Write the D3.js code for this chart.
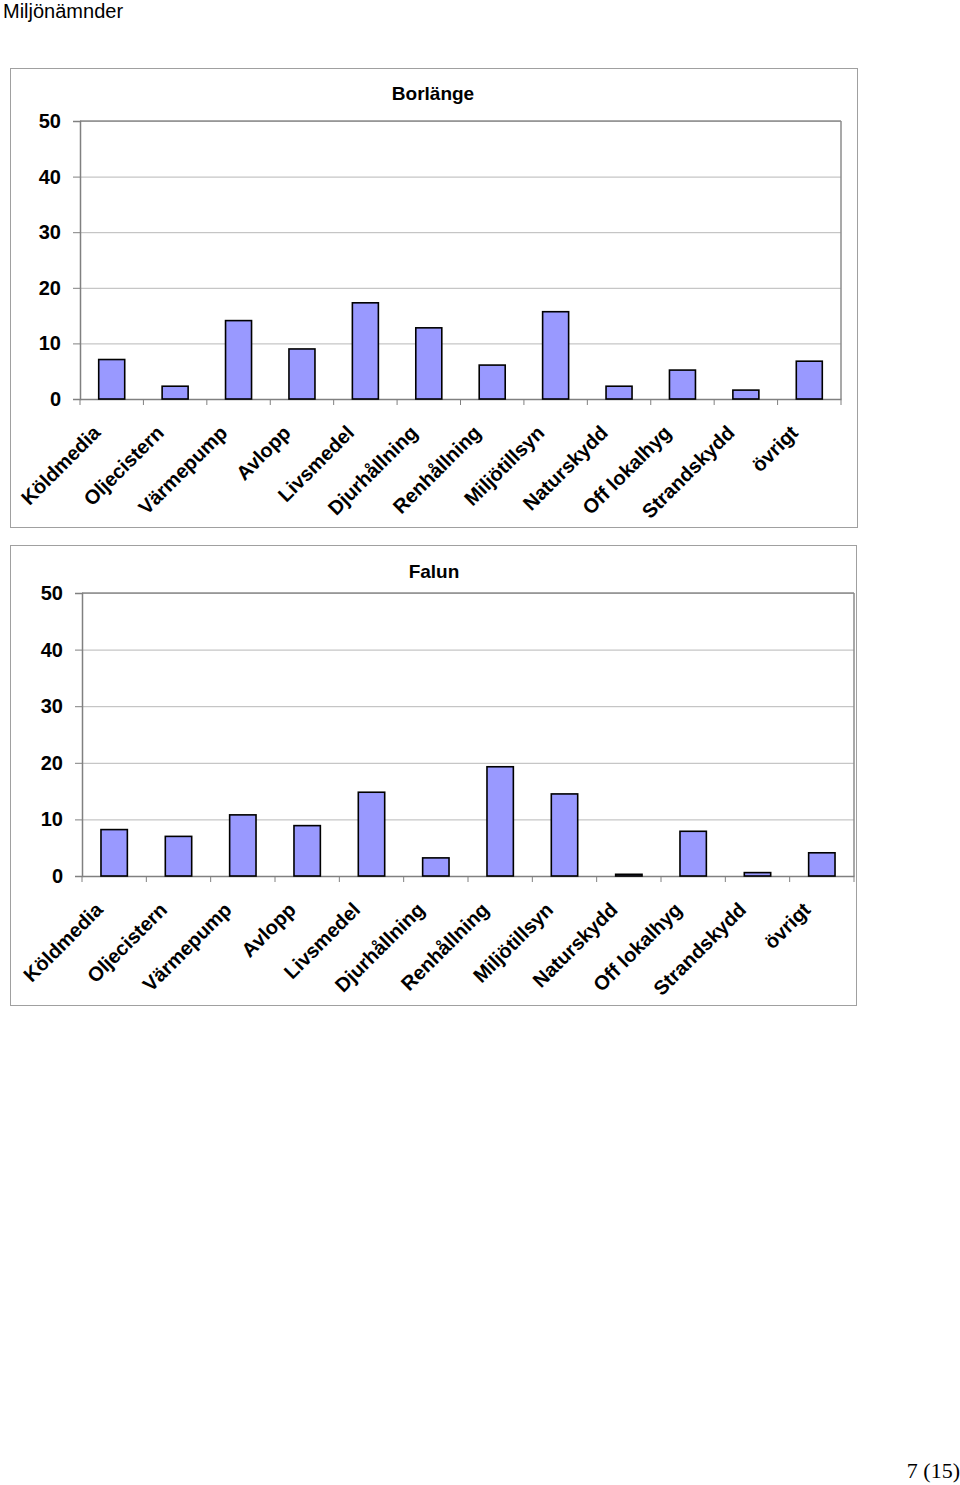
<!DOCTYPE html>
<html><head><meta charset="utf-8">
<script src="https://cdn.jsdelivr.net/npm/d3@7"></script>
<style>
body{margin:0;background:#fff;}
svg{display:block;}
text{font-family:"Liberation Sans",Arial,sans-serif;}
</style></head>
<body>
<svg id="c" width="960" height="1485"></svg>
<script>
const categories = ["Köldmedia","Oljecistern","Värmepump","Avlopp","Livsmedel","Djurhållning","Renhållning","Miljötillsyn","Naturskydd","Off lokalhyg","Strandskydd","övrigt"];
const borlange = [7.1, 2.3, 14.1, 9.0, 17.3, 12.8, 6.1, 15.7, 2.3, 5.2, 1.6, 6.8];
const falun = [8.2, 7.0, 10.8, 8.9, 14.8, 3.2, 19.3, 14.5, 0.3, 7.9, 0.6, 4.1];
const yTicks = [0, 10, 20, 30, 40, 50];
const pageTitle = "Miljönämnder";
const pageNumber = "7 (15)";

const svg = d3.select("#c");

svg.append("text").attr("x",3).attr("y",18).attr("font-size",20).attr("fill","#000").text(pageTitle);
svg.append("text").attr("x",960).attr("y",1478).attr("text-anchor","end")
  .attr("font-size",22).style("font-family","'Liberation Serif','Times New Roman',serif").text(pageNumber);

const charts = [
  {title:"Borlänge", values:borlange, box:[10,68,857,527], plot:[80,121,841,399], titleX:433, titleY:100, labelX:50},
  {title:"Falun", values:falun, box:[10,545,856,1005], plot:[82,593,854,876], titleX:434, titleY:578, labelX:52}
];

charts.forEach(c=>{
  const g = svg.append("g");
  const [bx0,by0,bx1,by1] = c.box;
  g.append("rect").attr("x",bx0+0.5).attr("y",by0+0.5).attr("width",bx1-bx0).attr("height",by1-by0)
    .attr("fill","#fff").attr("stroke","#a0a0a0").attr("stroke-width",1);
  const [l,t,r,b] = c.plot;
  const x = d3.scaleBand().domain(categories).range([l,r]).padding(0);
  const y = d3.scaleLinear().domain([0,50]).range([b,t]);

  // gridlines
  g.append("g").attr("transform",`translate(${l},0)`)
    .call(d3.axisLeft(y).tickValues(yTicks.filter(v=>v>0)).tickSize(-(r-l)).tickFormat(""))
    .call(s=>{s.select(".domain").remove(); s.selectAll("line").attr("stroke","#b8b8b8").attr("stroke-width",1);});

  // plot border top & right
  g.append("line").attr("x1",l).attr("x2",r).attr("y1",t).attr("y2",t).attr("stroke","#8c8c8c").attr("stroke-width",1.5);
  g.append("line").attr("x1",r).attr("x2",r).attr("y1",t).attr("y2",b).attr("stroke","#8c8c8c").attr("stroke-width",1.5);

  // y axis
  const ya = g.append("g").attr("transform",`translate(${l},0)`)
    .call(d3.axisLeft(y).tickValues(yTicks).tickSize(7).tickPadding(0));
  ya.select(".domain").attr("stroke","#808080").attr("stroke-width",1.5);
  ya.selectAll(".tick line").attr("stroke","#808080");
  ya.selectAll(".tick text").attr("x",-(l-c.labelX)+11).attr("font-size",20).attr("font-weight","bold")
    .attr("fill","#000").style("font-family","'Liberation Sans',Arial,sans-serif");

  // x axis
  const xa = g.append("g").attr("transform",`translate(0,${b})`)
    .call(d3.axisBottom(x).tickSize(0).tickFormat(""));
  xa.select(".domain").attr("stroke","#808080").attr("stroke-width",1.5);
  const bounds = categories.map(cat=>x(cat)).concat([r]);
  xa.selectAll(".bt").data(bounds).join("line").attr("class","bt")
    .attr("x1",d=>d).attr("x2",d=>d).attr("y1",0).attr("y2",6).attr("stroke","#808080");

  // bars
  const bw = x.bandwidth()*0.41;
  g.selectAll(".bar").data(c.values).join("rect").attr("class","bar")
    .attr("x",(d,i)=>x(categories[i])+x.bandwidth()/2-bw/2)
    .attr("y",d=>y(d))
    .attr("width",bw)
    .attr("height",d=>y(0)-y(d))
    .attr("fill","#9999ff").attr("stroke","#000").attr("stroke-width",1.6);

  // category labels
  g.selectAll(".cl").data(categories).join("text").attr("class","cl")
    .attr("transform",d=>`translate(${x(d)+x.bandwidth()/2-10},${b+35}) rotate(-45)`)
    .attr("text-anchor","end").attr("font-size",20).attr("font-weight","bold").text(d=>d);

  // title
  g.append("text").attr("x",c.titleX).attr("y",c.titleY).attr("text-anchor","middle")
    .attr("font-size",19).attr("font-weight","bold").text(c.title);
});
</script>
</body></html>
